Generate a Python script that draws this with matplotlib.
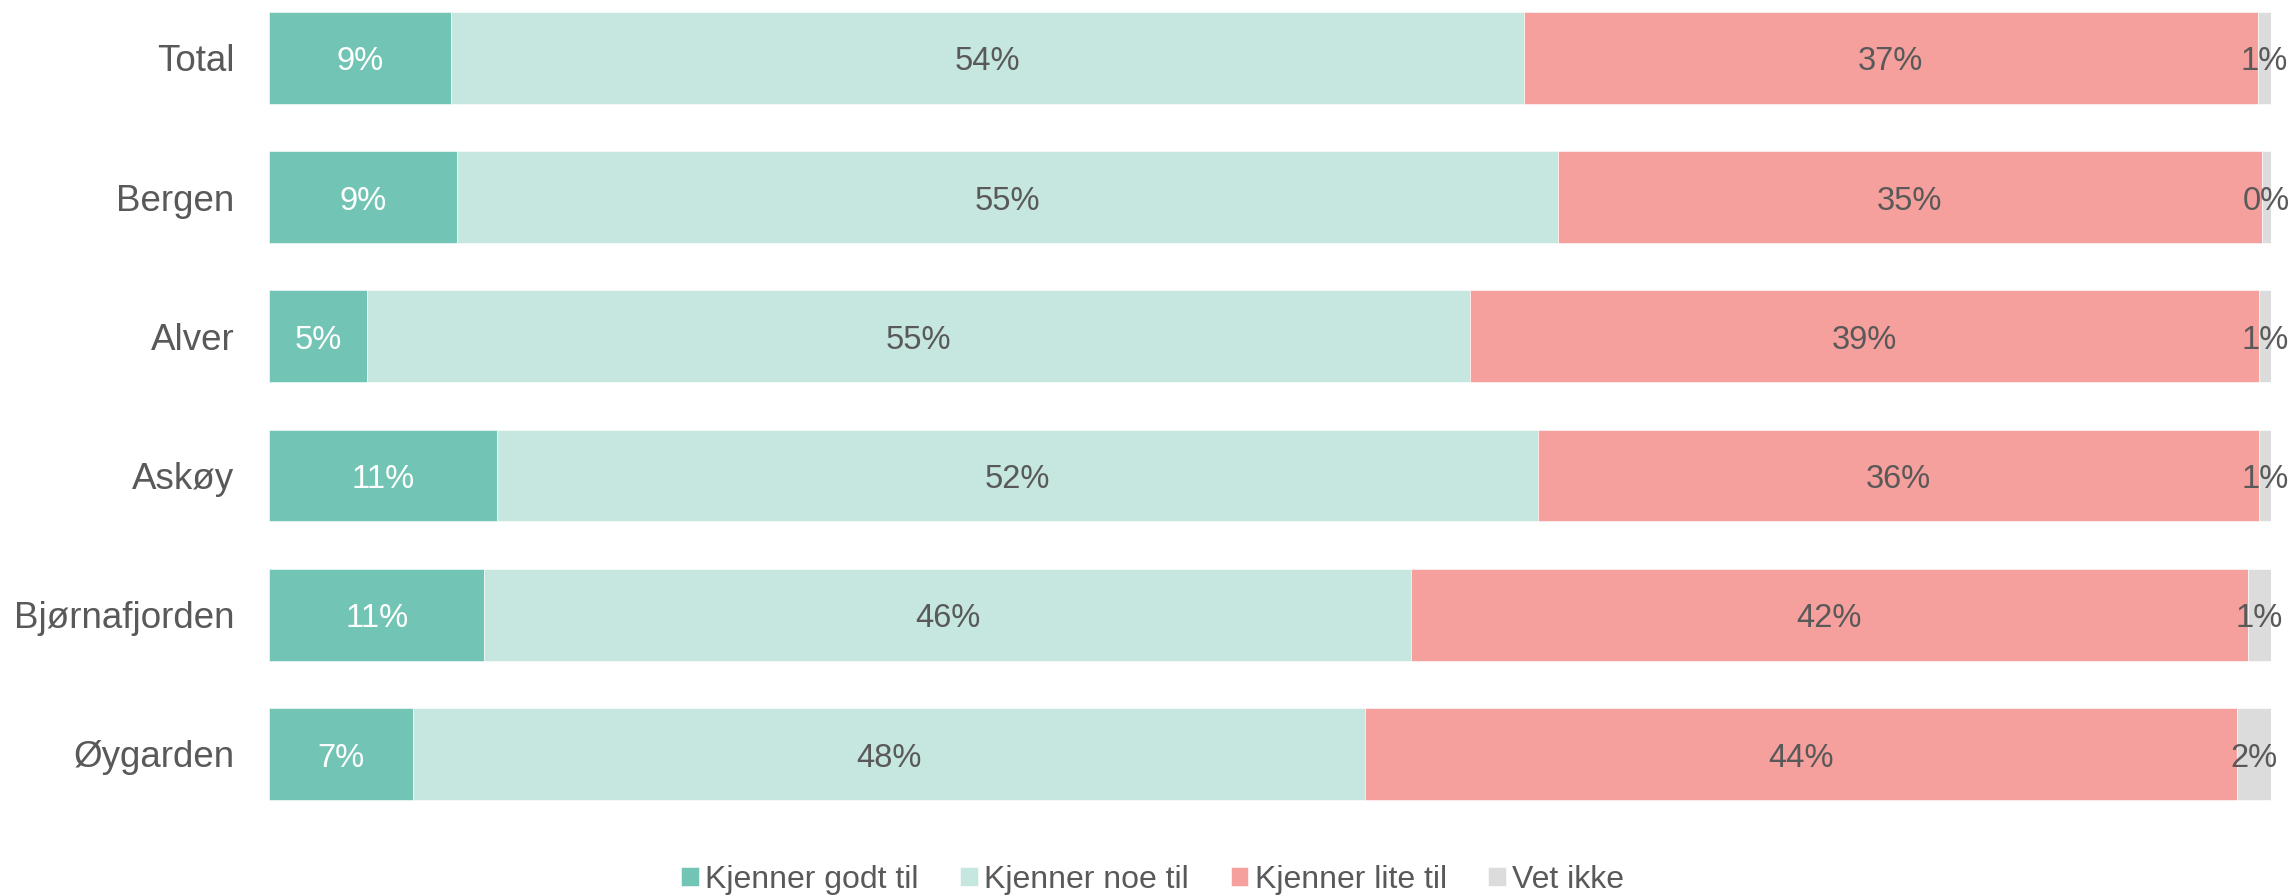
import matplotlib
matplotlib.use('Agg')
import matplotlib.pyplot as plt
import numpy as np

plt.rcParams['font.family'] = ['Liberation Sans', 'DejaVu Sans']

regions = ['Total', 'Bergen', 'Alver', 'Askøy', 'Bjørnafjorden', 'Øygarden']
series = ['Kjenner godt til', 'Kjenner noe til', 'Kjenner lite til', 'Vet ikke']
godt = [9.1, 9.4, 4.9, 11.4, 10.75, 7.2]
noe = [53.6, 55.0, 55.1, 52.0, 46.3, 47.55]
lite = [36.65, 35.15, 39.4, 36.0, 41.8, 43.55]
vet_ikke = [0.65, 0.45, 0.6, 0.6, 1.15, 1.7]

colors = ['#72C4B5', '#C6E6E0', '#F6A09D', '#DCDCDC']
text_colors = ['white', '#595959', '#595959', '#595959']
grey = '#595959'

fig = plt.figure(figsize=(22.92, 8.96), dpi=100)
ax = fig.add_axes([0.1174, 0.0808, 0.8733, 0.919])

y = np.arange(len(regions))
left = np.zeros(len(regions))
for name, vals, col, tcol in zip(series, [godt, noe, lite, vet_ikke], colors, text_colors):
    vals = np.array(vals)
    ax.barh(y, vals, left=left, height=0.66, color=col, label=name,
            edgecolor='white', linewidth=0.4)
    for yi, l, v in zip(y, left, vals):
        # small nudge down so the digits sit in the middle of the bar
        ax.text(l + v / 2, yi + 0.03, f'{v:.0f}%', ha='center', va='center',
                fontsize=23.5, color=tcol)
    left += vals

ax.set_xlim(0, 100)
ax.set_ylim(5.5, -0.414)
ax.set_yticks(y)
ax.set_yticklabels(regions, fontsize=26.5, color=grey)
ax.tick_params(axis='y', length=0, pad=25)
ax.set_xticks([])
for s in ax.spines.values():
    s.set_visible(False)

leg = fig.legend(loc='center', bbox_to_anchor=(0.503, 0.018), ncol=4, frameon=False,
                 fontsize=23, handlelength=0.55, handleheight=0.55,
                 handletextpad=0.2, columnspacing=1.3)
for t in leg.get_texts():
    t.set_color(grey)

plt.savefig('out.png', dpi=100)
